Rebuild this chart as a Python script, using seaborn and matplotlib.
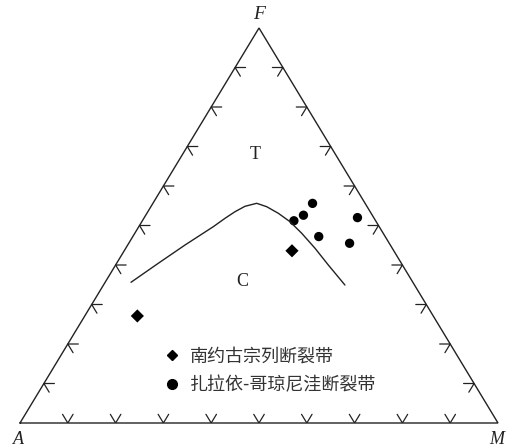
import numpy as np
import pandas as pd
import matplotlib
matplotlib.use("Agg")
import matplotlib.pyplot as plt
import seaborn as sns
from matplotlib.lines import Line2D

# ---- data (percent A, F, M) ----
grp1_label = "南约古宗列断裂带"
grp2_label = "扎拉依-哥琼尼洼断裂带"

grp1_A = [21.3, 61.9]
grp1_F = [43.6, 27.1]
grp1_M = [35.1, 11.0]

grp2_A = [11.0, 14.4, 17.1, 3.4, 13.9, 8.3]
grp2_F = [55.6, 52.6, 51.2, 52.0, 47.2, 45.5]
grp2_M = [33.4, 33.0, 31.7, 44.6, 38.9, 46.2]

curve_A = [58.97, 50.86, 42.95, 34.71, 31.20, 28.28, 25.50, 22.67, 21.01, 19.41, 18.03, 17.05, 16.16, 15.50, 14.56]
curve_F = [35.62, 40.43, 45.06, 49.70, 51.82, 53.49, 54.86, 55.62, 54.76, 53.09, 50.96, 48.03, 44.23, 40.00, 34.94]
curve_M = [5.41, 8.71, 11.99, 15.59, 16.98, 18.23, 19.64, 21.71, 24.23, 27.50, 31.01, 34.92, 39.61, 44.50, 50.52]

tick_fracs = [0.1, 0.2, 0.3, 0.4, 0.5, 0.6, 0.7, 0.8, 0.9]

H = np.sqrt(3) / 2


def tern(A, F, M):
    A, F, M = (np.asarray(v, float) for v in (A, F, M))
    s = A + F + M
    f, m = F / s, M / s
    return m + f / 2, f * H


sns.set_theme(style="white")
plt.rcParams['font.family'] = ['Noto Sans CJK SC', 'DejaVu Sans']

fig = plt.figure(figsize=(5.19, 4.48), dpi=100)
ax = fig.add_axes([20 / 519, (448 - 423) / 448, 478 / 519, 395 / 448])
ax.set_xlim(0, 1)
ax.set_ylim(0, H)
ax.axis("off")

lc = "#222222"
# triangle
ax.plot([0, 1, 0.5, 0], [0, 0, H, 0], color=lc, lw=1.0, clip_on=False, solid_joinstyle="miter")

# chevron ticks
L = 0.022
c60, s60 = 0.5, H
for t in tick_fracs:
    # bottom edge
    ax.plot([t - L * c60, t, t + L * c60], [L * s60, 0, L * s60], color=lc, lw=0.9)
    # left edge
    px, py = t / 2, t * H
    ax.plot([px + L, px, px + L * c60], [py, py, py - L * s60], color=lc, lw=0.9)
    # right edge
    px, py = 1 - t / 2, t * H
    ax.plot([px - L, px, px - L * c60], [py, py, py - L * s60], color=lc, lw=0.9)

# boundary curve
cx, cy = tern(curve_A, curve_F, curve_M)
curve_df = pd.DataFrame({"x": cx, "y": cy})
sns.lineplot(data=curve_df, x="x", y="y", sort=False, color=lc, lw=1.0,
             ax=ax, estimator=None)

# points
x1, y1 = tern(grp1_A, grp1_F, grp1_M)
x2, y2 = tern(grp2_A, grp2_F, grp2_M)
pts = pd.DataFrame({
    "x": np.concatenate([x1, x2]),
    "y": np.concatenate([y1, y2]),
    "group": [grp1_label] * len(x1) + [grp2_label] * len(x2),
})
sns.scatterplot(data=pts, x="x", y="y", style="group",
                markers={grp1_label: "D", grp2_label: "o"},
                color="black", s=45, edgecolor="none", ax=ax, legend=False)
ax.set_xlabel("")
ax.set_ylabel("")

# vertex labels
serif = dict(family=["Liberation Serif", "DejaVu Serif"], style="italic", color="#222222")
ax.text(0.5, H + 0.012, "F", ha="center", va="bottom", fontsize=14, **serif, clip_on=False)
fig.text(18 / 519, 1 - 439 / 448, "A", ha="center", va="center", fontsize=13, **serif)
fig.text(497 / 519, 1 - 439 / 448, "M", ha="center", va="center", fontsize=13, **serif)

# field labels
fl = dict(family=["Liberation Serif", "DejaVu Serif"], fontsize=13, color="#222222")
ax.text(0.492, 0.589, "T", ha="center", va="center", **fl)
ax.text(0.464, 0.311, "C", ha="center", va="center", **fl)

# legend
handles = [
    Line2D([], [], marker="D", color="black", ls="none", markersize=5.5),
    Line2D([], [], marker="o", color="black", ls="none", markersize=7),
]
leg = fig.legend(handles, [grp1_label, grp2_label], loc="center left",
                 bbox_to_anchor=(163 / 519, 1 - 371 / 448), frameon=False, handlelength=1.0,
                 handletextpad=0.5, labelspacing=0.6, borderpad=0, borderaxespad=0,
                 prop={"family": ["Noto Sans CJK SC", "DejaVu Sans"], "size": 13})
for txt in leg.get_texts():
    txt.set_color("#333333")

fig.savefig("out.png", dpi=100)
